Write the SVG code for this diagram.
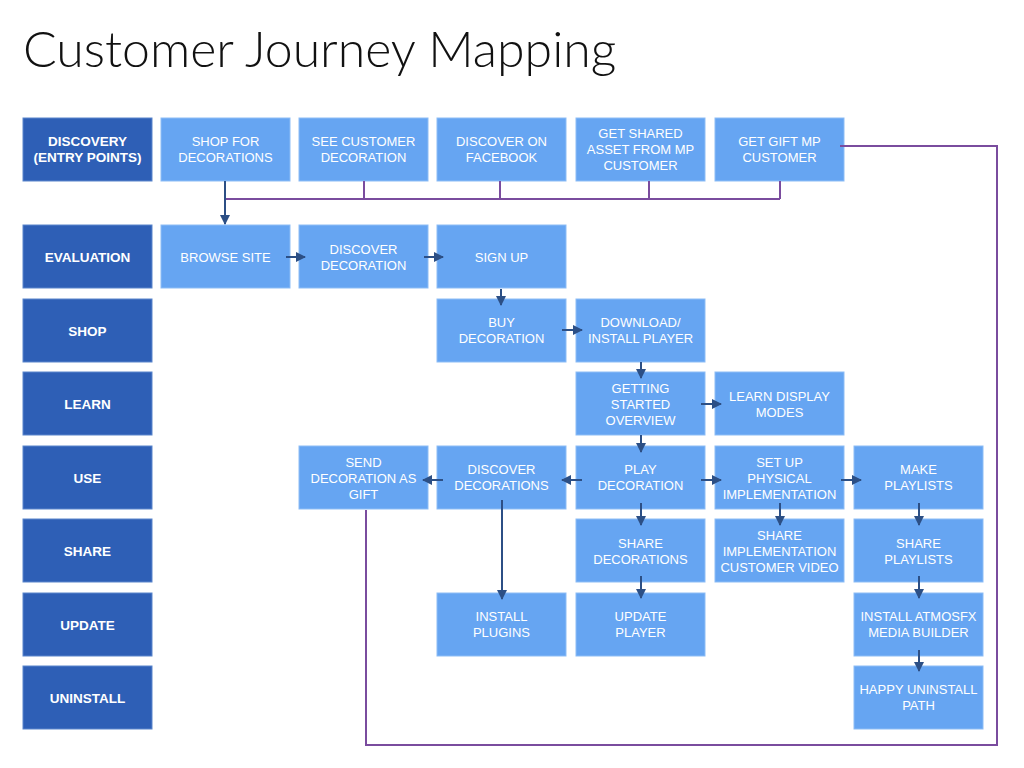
<svg xmlns="http://www.w3.org/2000/svg" width="1024" height="768" viewBox="0 0 1024 768">
<style>
.lab rect{fill:#2E5FB6;stroke:#5A86CC;stroke-width:1}
.lab text{fill:#fff;font-family:"Liberation Sans",Arial,sans-serif;font-size:13.5px;font-weight:bold;text-anchor:middle}
.node rect{fill:#66A5F2;stroke:#8DBDF6;stroke-width:1}
.node text{fill:#fff;font-family:"Liberation Sans",Arial,sans-serif;font-size:13px;text-anchor:middle}
.arr{stroke:#2C4F85;stroke-width:2;fill:none;marker-end:url(#ah)}
.pur{stroke:#7A4C9E;stroke-width:2;fill:none}
.title{font-family:Lato,"Open Sans","Liberation Sans",sans-serif;font-weight:300;font-size:50px;fill:#111}
</style>
<defs>
<marker id="ah" viewBox="0 0 10 10" refX="9" refY="5" markerWidth="5" markerHeight="5" orient="auto" markerUnits="strokeWidth">
<path d="M0,0 L10,5 L0,10 z" fill="#2C4F85"/>
</marker>
</defs>
<rect width="1024" height="768" fill="#fff"/>
<text class="title" x="23" y="67">Customer Journey Mapping</text>

<g id="labels">
<g id="lab-discovery" class="lab"><rect x="23" y="118" width="129" height="63"/><text x="87.5" y="146">DISCOVERY</text><text x="87.5" y="162">(ENTRY POINTS)</text></g>
<g id="lab-evaluation" class="lab"><rect x="23" y="225" width="129" height="63"/><text x="87.5" y="262">EVALUATION</text></g>
<g id="lab-shop" class="lab"><rect x="23" y="299" width="129" height="63"/><text x="87.5" y="336">SHOP</text></g>
<g id="lab-learn" class="lab"><rect x="23" y="372" width="129" height="63"/><text x="87.5" y="409">LEARN</text></g>
<g id="lab-use" class="lab"><rect x="23" y="446" width="129" height="63"/><text x="87.5" y="483">USE</text></g>
<g id="lab-share" class="lab"><rect x="23" y="519" width="129" height="63"/><text x="87.5" y="556">SHARE</text></g>
<g id="lab-update" class="lab"><rect x="23" y="593" width="129" height="63"/><text x="87.5" y="630">UPDATE</text></g>
<g id="lab-uninstall" class="lab"><rect x="23" y="666" width="129" height="63"/><text x="87.5" y="703">UNINSTALL</text></g>
</g>

<g id="nodes">
<g id="n-shop-for" class="node"><rect x="161" y="118" width="129" height="63"/><text x="225.5" y="146">SHOP FOR</text><text x="225.5" y="162">DECORATIONS</text></g>
<g id="n-see-customer" class="node"><rect x="299" y="118" width="129" height="63"/><text x="363.5" y="146">SEE CUSTOMER</text><text x="363.5" y="162">DECORATION</text></g>
<g id="n-facebook" class="node"><rect x="437" y="118" width="129" height="63"/><text x="501.5" y="146">DISCOVER ON</text><text x="501.5" y="162">FACEBOOK</text></g>
<g id="n-shared-asset" class="node"><rect x="576" y="118" width="129" height="63"/><text x="640.5" y="138">GET SHARED</text><text x="640.5" y="154">ASSET FROM MP</text><text x="640.5" y="170">CUSTOMER</text></g>
<g id="n-gift-mp" class="node"><rect x="715" y="118" width="129" height="63"/><text x="779.5" y="146">GET GIFT MP</text><text x="779.5" y="162">CUSTOMER</text></g>

<g id="n-browse" class="node"><rect x="161" y="225" width="129" height="63"/><text x="225.5" y="262">BROWSE SITE</text></g>
<g id="n-discover-decoration" class="node"><rect x="299" y="225" width="129" height="63"/><text x="363.5" y="254">DISCOVER</text><text x="363.5" y="270">DECORATION</text></g>
<g id="n-signup" class="node"><rect x="437" y="225" width="129" height="63"/><text x="501.5" y="262">SIGN UP</text></g>

<g id="n-buy" class="node"><rect x="437" y="299" width="129" height="63"/><text x="501.5" y="327">BUY</text><text x="501.5" y="343">DECORATION</text></g>
<g id="n-download" class="node"><rect x="576" y="299" width="129" height="63"/><text x="640.5" y="327">DOWNLOAD/</text><text x="640.5" y="343">INSTALL PLAYER</text></g>

<g id="n-getting-started" class="node"><rect x="576" y="372" width="129" height="63"/><text x="640.5" y="393">GETTING</text><text x="640.5" y="409">STARTED</text><text x="640.5" y="425">OVERVIEW</text></g>
<g id="n-learn-display" class="node"><rect x="715" y="372" width="129" height="63"/><text x="779.5" y="401">LEARN DISPLAY</text><text x="779.5" y="417">MODES</text></g>

<g id="n-send-gift" class="node"><rect x="299" y="446" width="129" height="63"/><text x="363.5" y="467">SEND</text><text x="363.5" y="483">DECORATION AS</text><text x="363.5" y="499">GIFT</text></g>
<g id="n-discover-decorations" class="node"><rect x="437" y="446" width="129" height="63"/><text x="501.5" y="474">DISCOVER</text><text x="501.5" y="490">DECORATIONS</text></g>
<g id="n-play" class="node"><rect x="576" y="446" width="129" height="63"/><text x="640.5" y="474">PLAY</text><text x="640.5" y="490">DECORATION</text></g>
<g id="n-setup" class="node"><rect x="715" y="446" width="129" height="63"/><text x="779.5" y="467">SET UP</text><text x="779.5" y="483">PHYSICAL</text><text x="779.5" y="499">IMPLEMENTATION</text></g>
<g id="n-make-playlists" class="node"><rect x="854" y="446" width="129" height="63"/><text x="918.5" y="474">MAKE</text><text x="918.5" y="490">PLAYLISTS</text></g>

<g id="n-share-decorations" class="node"><rect x="576" y="519" width="129" height="63"/><text x="640.5" y="548">SHARE</text><text x="640.5" y="564">DECORATIONS</text></g>
<g id="n-share-impl" class="node"><rect x="715" y="519" width="129" height="63"/><text x="779.5" y="540">SHARE</text><text x="779.5" y="556">IMPLEMENTATION</text><text x="779.5" y="572">CUSTOMER VIDEO</text></g>
<g id="n-share-playlists" class="node"><rect x="854" y="519" width="129" height="63"/><text x="918.5" y="548">SHARE</text><text x="918.5" y="564">PLAYLISTS</text></g>

<g id="n-install-plugins" class="node"><rect x="437" y="593" width="129" height="63"/><text x="501.5" y="621">INSTALL</text><text x="501.5" y="637">PLUGINS</text></g>
<g id="n-update-player" class="node"><rect x="576" y="593" width="129" height="63"/><text x="640.5" y="621">UPDATE</text><text x="640.5" y="637">PLAYER</text></g>
<g id="n-atmosfx" class="node"><rect x="854" y="593" width="129" height="63"/><text x="918.5" y="621">INSTALL ATMOSFX</text><text x="918.5" y="637">MEDIA BUILDER</text></g>

<g id="n-happy-uninstall" class="node"><rect x="854" y="666" width="129" height="63"/><text x="918.5" y="694">HAPPY UNINSTALL</text><text x="918.5" y="710">PATH</text></g>
</g>

<g id="connectors">
<polyline class="pur" points="364,181 364,199"/>
<polyline class="pur" points="500,181 500,199"/>
<polyline class="pur" points="649,181 649,199"/>
<polyline class="pur" points="780,181 780,199"/>
<polyline class="pur" points="225,199 780,199"/>
<polyline class="pur" points="840,146 997,146 997,745 366,745 366,510"/>
<line class="arr" x1="225" y1="181" x2="225" y2="224"/>
<line class="arr" x1="286" y1="257" x2="305" y2="257"/>
<line class="arr" x1="424" y1="257" x2="443" y2="257"/>
<line class="arr" x1="501" y1="289" x2="501" y2="305"/>
<line class="arr" x1="562" y1="330" x2="582" y2="330"/>
<line class="arr" x1="641" y1="362" x2="641" y2="378"/>
<line class="arr" x1="701" y1="404" x2="721" y2="404"/>
<line class="arr" x1="641" y1="435" x2="641" y2="452"/>
<line class="arr" x1="582" y1="480" x2="562" y2="480"/>
<line class="arr" x1="443" y1="480" x2="423" y2="480"/>
<line class="arr" x1="701" y1="480" x2="721" y2="480"/>
<line class="arr" x1="841" y1="480" x2="861" y2="480"/>
<line class="arr" x1="641" y1="503" x2="641" y2="525"/>
<line class="arr" x1="641" y1="576" x2="641" y2="598"/>
<line class="arr" x1="502" y1="500" x2="502" y2="599"/>
<line class="arr" x1="780" y1="503" x2="780" y2="525"/>
<line class="arr" x1="919" y1="503" x2="919" y2="525"/>
<line class="arr" x1="919" y1="576" x2="919" y2="598"/>
<line class="arr" x1="919" y1="650" x2="919" y2="671"/>
</g>
</svg>
